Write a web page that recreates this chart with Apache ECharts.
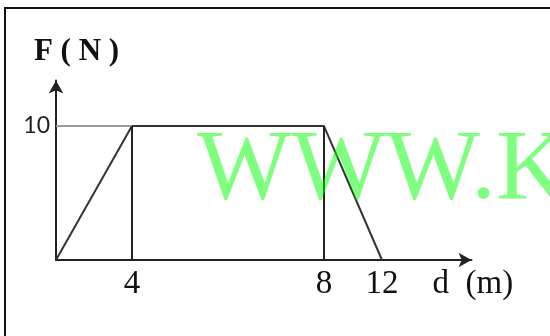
<!DOCTYPE html>
<html>
<head>
<meta charset="utf-8">
<script src="https://cdn.jsdelivr.net/npm/echarts@6/dist/echarts.min.js"></script>
<style>
  html, body { margin: 0; padding: 0; background: #fff; }
  #chart { width: 550px; height: 336px; }
</style>
</head>
<body>
<div id="chart"></div>
<script>
// force (N) against distance (m)
const distances = [0, 4, 8, 12];
const forces = [0, 10, 10, 0];

// tick labels on the d axis and where the sketch puts them (uneven spacing)
const dTickLabels = ['4', '8', '12'];
const dTickValues = [4, 8, 12];
const dTickPos = [4.02, 14.19, 17.26];
const fTickValues = [10];

// map a distance to its position along the sketched axis
const toPos = d => {
  if (d <= 0) return 0;
  const i = dTickValues.indexOf(d);
  return i >= 0 ? dTickPos[i] : d;
};

const points = distances.map((d, i) => [toPos(d), forces[i]]);

const chart = echarts.init(document.getElementById('chart'));

const axisLine = {
  show: true,
  symbol: ['none', 'arrow'],
  symbolSize: [11, 13],
  lineStyle: { color: '#222', width: 2 }
};

const option = {
  animation: false,
  grid: { left: 56, right: 78.5, top: 80.5, bottom: 76 },
  xAxis: {
    type: 'value',
    min: 0,
    max: 22,
    name: 'd  (m)',
    nameLocation: 'end',
    nameGap: -39,
    nameTextStyle: {
      fontFamily: 'Liberation Serif',
      fontSize: 33,
      color: '#111',
      align: 'left',
      verticalAlign: 'top',
      padding: [8, 0, 0, 0]
    },
    axisLine: axisLine,
    axisTick: { show: false },
    splitLine: { show: false },
    axisLabel: {
      customValues: dTickPos,
      formatter: v => dTickLabels[dTickPos.indexOf(v)] || '',
      fontFamily: 'Liberation Serif',
      fontSize: 33,
      color: '#111',
      margin: 8
    }
  },
  yAxis: {
    type: 'value',
    min: 0,
    max: 13.4,
    name: 'F ( N )',
    nameLocation: 'end',
    nameGap: 13,
    nameTextStyle: {
      fontFamily: 'Liberation Serif',
      fontWeight: 'bold',
      fontSize: 31,
      color: '#111',
      padding: [0, 0, 0, 41]
    },
    axisLine: axisLine,
    axisTick: { show: false },
    splitLine: { show: false },
    axisLabel: {
      customValues: fTickValues,
      fontFamily: 'Lato',
      fontSize: 23,
      color: '#222',
      margin: 6
    }
  },
  series: [
    {
      type: 'line',
      data: points,
      symbol: 'none',
      lineStyle: { color: '#333', width: 2 },
      z: 3,
      markLine: {
        silent: true,
        symbol: 'none',
        label: { show: false },
        data: [
          [{ coord: [0, forces[1]], lineStyle: { color: '#999', width: 2, type: 'solid' } },
           { coord: [toPos(distances[1]), forces[1]] }],
          [{ coord: [toPos(distances[1]), 0], lineStyle: { color: '#222', width: 2, type: 'solid' } },
           { coord: [toPos(distances[1]), forces[1]] }],
          [{ coord: [toPos(distances[2]), 0], lineStyle: { color: '#222', width: 2, type: 'solid' } },
           { coord: [toPos(distances[2]), forces[2]] }]
        ]
      }
    }
  ],
  graphic: [
    {
      type: 'polyline',
      shape: { points: [[5, 336], [5, 8], [550, 8]] },
      style: { stroke: '#111', lineWidth: 2, fill: null },
      z: 10
    },
    {
      type: 'text',
      left: 197,
      top: 122,
      style: {
        text: 'WWW.K',
        font: '100px "Liberation Serif"',
        fill: 'rgba(0, 255, 0, 0.5)'
      },
      z: 20
    }
  ]
};

chart.setOption(option);
</script>
</body>
</html>
